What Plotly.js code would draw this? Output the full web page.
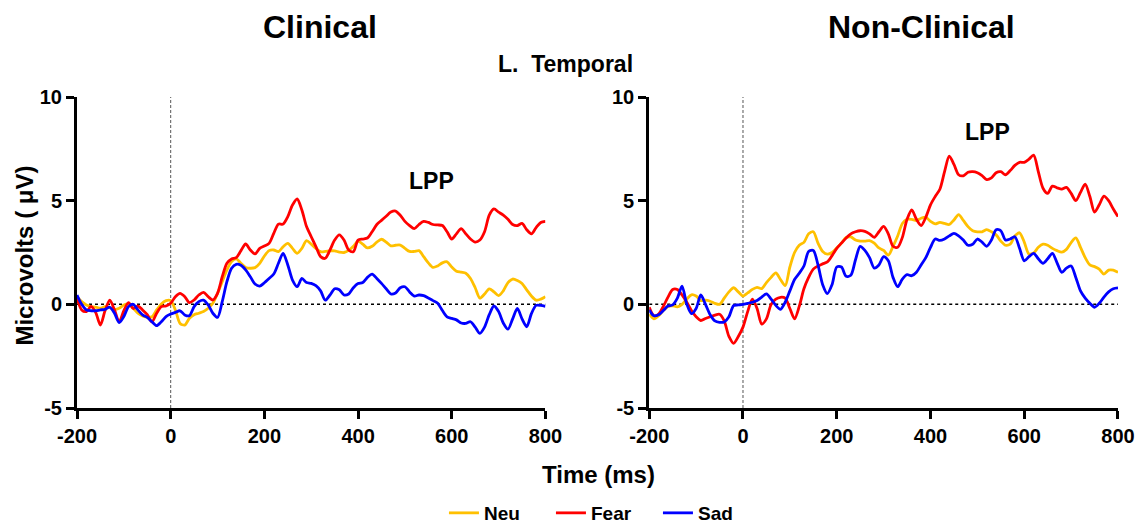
<!DOCTYPE html>
<html>
<head>
<meta charset="utf-8">
<script src="https://cdn.plot.ly/plotly-3.0.1.min.js"></script>
<style>html,body{margin:0;padding:0;background:#fff;}#chart{width:1140px;height:525px;}</style>
</head>
<body>
<div id="chart"></div>
<script>
// Time axis (ms)
const timeMs = [
 -200,-190,-180,-170,-160,-150,-140,-130,-120,-110,
 -100,-90,-80,-70,-60,-50,-40,-30,-20,-10,
 0,10,20,30,40,50,60,70,80,90,
 100,110,120,130,140,150,160,170,180,190,
 200,210,220,230,240,250,260,270,280,290,
 300,310,320,330,340,350,360,370,380,390,
 400,410,420,430,440,450,460,470,480,490,
 500,510,520,530,540,550,560,570,580,590,
 600,610,620,630,640,650,660,670,680,690,
 700,710,720,730,740,750,760,770,780,790,
 800];

const seriesNames = ['Neu', 'Fear', 'Sad'];
const xTicks = [-200, 0, 200, 400, 600, 800];
const yTicks = [-5, 0, 5, 10];

// Clinical group
const clinNeu = [
 0.37,0.13,-0.03,-0.11,-0.14,-0.19,-0.11,-0.16,-0.24,-0.19,
 -0.03,0.02,-0.19,-0.43,-0.56,-0.63,-0.6,-0.27,0.02,0.18,
 0.18,-0.27,-0.92,-1.0,-0.67,-0.5,-0.43,-0.35,-0.19,0.05,
 0.53,1.09,1.66,2.06,2.19,1.98,1.78,1.74,1.77,1.98,
 2.33,2.59,2.62,2.54,2.78,2.94,2.7,2.46,2.7,3.07,
 2.9,2.7,2.54,2.55,2.58,2.58,2.52,2.5,2.6,2.8,
 3.05,2.9,2.72,2.8,3.0,3.14,3.0,2.82,2.85,2.86,
 2.7,2.55,2.55,2.59,2.3,2.0,1.78,1.85,2.0,2.05,
 1.8,1.6,1.55,1.5,1.25,0.8,0.3,0.5,0.75,0.6,
 0.42,0.65,1.05,1.22,1.15,1.0,0.7,0.4,0.2,0.25,
 0.37];
const clinFear = [
 0.3,-0.27,-0.35,-0.1,-0.4,-1.0,-0.3,0.2,-0.27,-0.85,
 -0.3,0.08,-0.2,-0.08,-0.27,-0.5,-0.85,-0.43,-0.11,-0.08,
 0.05,0.37,0.53,0.37,0.08,0.21,0.45,0.58,0.37,0.21,
 0.53,1.33,1.98,2.19,2.25,2.59,2.91,2.62,2.43,2.7,
 2.81,2.94,3.42,3.87,3.87,4.23,4.79,5.08,4.55,3.75,
 3.26,2.78,2.3,2.22,2.62,3.1,3.35,3.1,2.62,2.54,
 3.1,3.15,3.2,3.5,3.85,4.05,4.25,4.45,4.5,4.3,
 4.0,3.8,3.65,3.85,4.0,3.95,3.85,3.83,3.8,3.5,
 3.15,3.4,3.65,3.4,3.15,3.0,3.1,3.5,4.3,4.6,
 4.45,4.3,4.1,3.85,3.8,3.9,3.6,3.4,3.7,3.95,
 4.0];
const clinSad = [
 0.45,0.0,-0.27,-0.31,-0.31,-0.27,-0.24,-0.14,-0.43,-0.88,
 -0.59,-0.11,0.0,-0.27,-0.51,-0.63,-0.84,-1.03,-0.84,-0.59,
 -0.47,-0.39,-0.31,-0.51,-0.55,-0.11,0.13,0.2,-0.03,-0.43,
 -0.63,0.13,1.09,1.74,1.93,1.88,1.66,1.33,0.98,0.88,
 1.04,1.25,1.46,1.98,2.46,1.9,1.17,0.85,1.25,1.05,
 1.01,0.9,0.65,0.2,0.45,0.75,0.7,0.45,0.5,0.8,
 1.0,1.05,1.3,1.46,1.25,1.01,0.75,0.5,0.55,0.8,
 0.85,0.6,0.4,0.45,0.42,0.3,0.18,0.05,-0.3,-0.6,
 -0.68,-0.75,-0.9,-0.92,-0.84,-1.1,-1.4,-1.1,-0.5,-0.08,
 -0.35,-0.9,-1.2,-0.7,-0.2,-0.7,-1.08,-0.45,-0.05,-0.05,
 -0.1];

// Non-Clinical group
const nonNeu = [
 -0.47,-0.7,-0.55,-0.3,-0.1,-0.07,-0.12,0.0,0.25,0.46,
 0.4,0.18,0.2,0.15,0.05,0.0,0.3,0.6,0.8,0.6,
 0.4,0.55,0.72,0.82,0.76,1.05,1.3,1.52,1.2,0.9,
 1.8,2.5,2.85,2.99,3.4,3.5,2.95,2.55,2.42,2.5,
 2.72,2.95,3.22,3.25,3.1,3.05,3.05,3.07,2.95,2.72,
 2.6,2.37,2.8,3.3,3.9,4.1,4.1,4.04,4.15,4.2,
 4.0,3.88,3.95,3.9,3.85,4.07,4.33,4.05,3.75,3.55,
 3.5,3.5,3.6,3.5,3.35,3.05,2.85,2.9,3.3,3.45,
 3.0,2.43,2.48,2.75,2.9,2.85,2.7,2.59,2.52,2.65,
 2.98,3.2,2.75,2.25,1.9,1.82,1.7,1.46,1.65,1.65,
 1.54];
const nonFear = [
 -0.14,-0.55,-0.47,-0.1,0.35,0.72,0.72,0.45,0.1,-0.3,
 -0.6,-0.78,-0.68,-0.6,-0.52,-0.48,-0.8,-1.55,-1.88,-1.55,
 -1.1,-0.35,0.25,-0.2,-0.95,-0.7,0.0,0.25,0.34,0.3,
 -0.2,-0.7,-0.1,0.75,1.3,1.7,1.85,1.95,2.05,2.35,
 2.7,2.95,3.2,3.4,3.5,3.55,3.52,3.4,3.23,3.5,
 3.76,3.4,2.8,2.75,3.23,4.1,4.55,4.1,3.8,4.2,
 4.8,5.2,5.55,6.4,7.15,6.75,6.25,6.2,6.37,6.4,
 6.35,6.21,6.02,6.1,6.35,6.4,6.25,6.45,6.7,6.85,
 6.85,7.0,7.2,6.4,5.6,5.35,5.7,5.62,5.56,5.64,
 5.35,5.0,5.4,5.8,5.2,4.45,4.8,5.22,5.0,4.6,
 4.23];
const nonSad = [
 -0.27,-0.55,-0.5,-0.3,-0.08,-0.03,0.3,0.88,0.02,-0.45,
 -0.2,0.45,0.0,-0.5,-0.8,-0.87,-0.85,-0.6,-0.06,-0.03,
 0.0,0.05,0.1,0.18,0.35,0.5,0.25,-0.05,-0.24,0.1,
 0.65,1.2,1.5,1.85,2.55,2.6,1.9,0.95,0.52,0.95,
 1.8,1.8,1.35,1.4,2.15,2.8,2.6,2.25,1.75,1.9,
 2.3,2.1,1.3,0.85,1.22,1.43,1.38,1.55,1.9,2.25,
 2.75,3.15,3.08,3.15,3.3,3.42,3.3,3.1,2.85,2.9,
 3.15,3.0,2.8,3.1,3.6,3.55,3.1,3.15,3.26,2.7,
 2.1,2.3,2.46,2.2,1.98,2.2,2.46,2.0,1.54,1.75,
 1.85,1.3,0.65,0.3,0.05,-0.14,0.05,0.35,0.6,0.75,
 0.79];

const colors = {Neu: '#FFC000', Fear: '#FF0000', Sad: '#0000FF'};
const FONT = 'Liberation Sans, Arial, Helvetica, sans-serif';

const groups = [
  {xa: 'x', ya: 'y', data: {Neu: clinNeu, Fear: clinFear, Sad: clinSad}, legend: true},
  {xa: 'x2', ya: 'y2', data: {Neu: nonNeu, Fear: nonFear, Sad: nonSad}, legend: false}
];

const traces = [];
groups.forEach(g => {
  seriesNames.forEach(name => {
    traces.push({
      type: 'scatter', mode: 'lines',
      x: timeMs, y: g.data[name],
      xaxis: g.xa, yaxis: g.ya,
      name: name, legendgroup: name, showlegend: g.legend,
      line: {color: colors[name], width: 2.8, shape: 'spline', smoothing: 0.8},
      hoverinfo: 'skip'
    });
  });
});

function xAxis(domain, anchor) {
  return {
    domain: domain, anchor: anchor, range: [-200, 800], tickvals: xTicks,
    ticktext: xTicks.map(String),
    showline: true, linecolor: '#000', linewidth: 3, mirror: false,
    ticks: 'outside', ticklen: 8, tickwidth: 3, tickcolor: '#000',
    showgrid: false, zeroline: false, fixedrange: true, automargin: false,
    tickfont: {family: FONT, size: 20, color: '#000', weight: 'bold'}
  };
}
function yAxis(anchor) {
  return {
    domain: [0, 1], anchor: anchor, range: [-5, 10], tickvals: yTicks,
    ticktext: yTicks.map(String),
    showline: true, linecolor: '#000', linewidth: 3,
    ticks: 'outside', ticklen: 8, tickwidth: 3, tickcolor: '#000',
    showgrid: false, zeroline: false, fixedrange: true, automargin: false,
    tickfont: {family: FONT, size: 20, color: '#000', weight: 'bold'}
  };
}

const shapes = [];
[['x','y'],['x2','y2']].forEach(([xa, ya]) => {
  shapes.push({type: 'line', xref: xa, yref: ya, x0: -200, x1: 800, y0: 0, y1: 0,
    layer: 'below', line: {color: '#000', width: 1.5, dash: 'dot'}});
  shapes.push({type: 'line', xref: xa, yref: ya, x0: 0, x1: 0, y0: -5, y1: 10,
    layer: 'below', line: {color: '#555', width: 1, dash: '3px,2px'}});
});

const bold = (size) => ({family: FONT, size: size, color: '#000', weight: 'bold'});
const annotations = [
  {text: 'Clinical', xref: 'paper', yref: 'paper', x: 0.2334, y: 1.225, showarrow: false,
   xanchor: 'center', yanchor: 'middle', font: bold(32)},
  {text: 'Non-Clinical', xref: 'paper', yref: 'paper', x: 0.8108, y: 1.225, showarrow: false,
   xanchor: 'center', yanchor: 'middle', font: bold(32)},
  {text: 'L.\u00a0 Temporal', xref: 'paper', yref: 'paper', x: 0.4697, y: 1.106, showarrow: false,
   xanchor: 'center', yanchor: 'middle', font: bold(23)},
  {text: 'LPP', xref: 'x', yref: 'y', x: 557, y: 5.96, showarrow: false,
   xanchor: 'center', yanchor: 'middle', font: bold(23)},
  {text: 'LPP', xref: 'x2', yref: 'y2', x: 522, y: 8.3, showarrow: false,
   xanchor: 'center', yanchor: 'middle', font: bold(23)},
  {text: 'Microvolts ( \u03bcV)', xref: 'paper', yref: 'paper', x: -0.05, y: 0.49, showarrow: false,
   textangle: -90, xanchor: 'center', yanchor: 'middle', font: bold(24)},
  {text: 'Time (ms)', xref: 'paper', yref: 'paper', x: 0.5005, y: -0.2154, showarrow: false,
   xanchor: 'center', yanchor: 'middle', font: bold(24)}
];

const layout = {
  width: 1140, height: 525,
  paper_bgcolor: '#fff', plot_bgcolor: '#fff',
  margin: {l: 77, r: 22, t: 97, b: 117, pad: 0, autoexpand: false},
  font: {family: FONT, color: '#000'},
  xaxis: xAxis([0, 0.450], 'y'),
  yaxis: yAxis('x'),
  xaxis2: xAxis([0.5497, 1], 'y2'),
  yaxis2: yAxis('x2'),
  showlegend: true,
  legend: {orientation: 'h', x: 0.3525, xanchor: 'left', y: -0.3376, yanchor: 'middle',
    font: bold(19), bgcolor: 'rgba(0,0,0,0)', entrywidth: 62, entrywidthmode: 'pixels',
    traceorder: 'normal'},
  shapes: shapes,
  annotations: annotations,
  hovermode: false
};

Plotly.newPlot('chart', traces, layout, {displayModeBar: false, staticPlot: true});
</script>
</body>
</html>
